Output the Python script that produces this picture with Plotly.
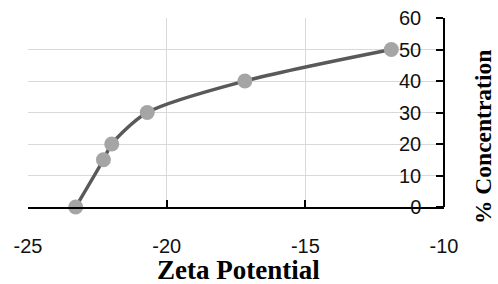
import plotly.graph_objects as go

zeta = [-23.28, -22.28, -21.98, -20.70, -17.18, -11.9]
conc = [0, 15, 20, 30, 40, 50]
x_ticks = [-25, -20, -15, -10]
y_ticks = [0, 10, 20, 30, 40, 50, 60]

fig = go.Figure()
fig.add_trace(go.Scatter(
    x=zeta, y=conc, mode="lines+markers",
    line=dict(color="#595959", width=3.5, shape="spline", smoothing=0.8),
    marker=dict(color="#A5A5A5", size=15, line=dict(width=0)),
    cliponaxis=False, showlegend=False, hoverinfo="skip",
))

W, H = 498, 284
L, R, T, B = 28, 444, 18, 207
fig.update_layout(
    width=W, height=H,
    margin=dict(l=L, r=W - R, t=T, b=H - B, autoexpand=False),
    plot_bgcolor="white", paper_bgcolor="white",
    font=dict(family="Liberation Sans, Arial, sans-serif", size=20, color="#111111"),
)
fig.update_xaxes(
    range=[-25, -10], tickvals=x_ticks, ticktext=[str(v) for v in x_ticks],
    showgrid=True, gridcolor="#D9D9D9", gridwidth=1.3,
    showline=True, linecolor="black", linewidth=1.5,
    ticks="inside", ticklen=7, tickcolor="black", tickwidth=1.5,
    ticklabelstandoff=20,
    zeroline=False, automargin=False, domain=[0, 1],
)
fig.update_yaxes(
    range=[0, 60], tickvals=y_ticks, ticktext=[str(v) for v in y_ticks],
    side="left", anchor="free", position=1.0,
    showgrid=True, gridcolor="#D9D9D9", gridwidth=1.3,
    showline=True, linecolor="black", linewidth=1.5,
    ticks="outside", ticklen=7, tickcolor="black", tickwidth=1.5,
    ticklabelstandoff=11,
    zeroline=False, automargin=False,
)
fig.add_annotation(
    text="<b>Zeta Potential</b>", xref="paper", yref="paper",
    x=(238.5 - L) / (R - L), y=(B - 270) / (B - T),
    showarrow=False, xanchor="center", yanchor="middle",
    font=dict(family="Liberation Serif, Times New Roman, serif", size=27, color="black"),
)
fig.add_annotation(
    text="<b>% Concentration</b>", xref="paper", yref="paper",
    x=(483 - L) / (R - L), y=(B - 137) / (B - T),
    showarrow=False, xanchor="center", yanchor="middle", textangle=-90,
    font=dict(family="Liberation Serif, Times New Roman, serif", size=23.5, color="black"),
)
fig.write_html("out.html", config={"displayModeBar": False},
               post_script="document.body.style.margin='0';")
